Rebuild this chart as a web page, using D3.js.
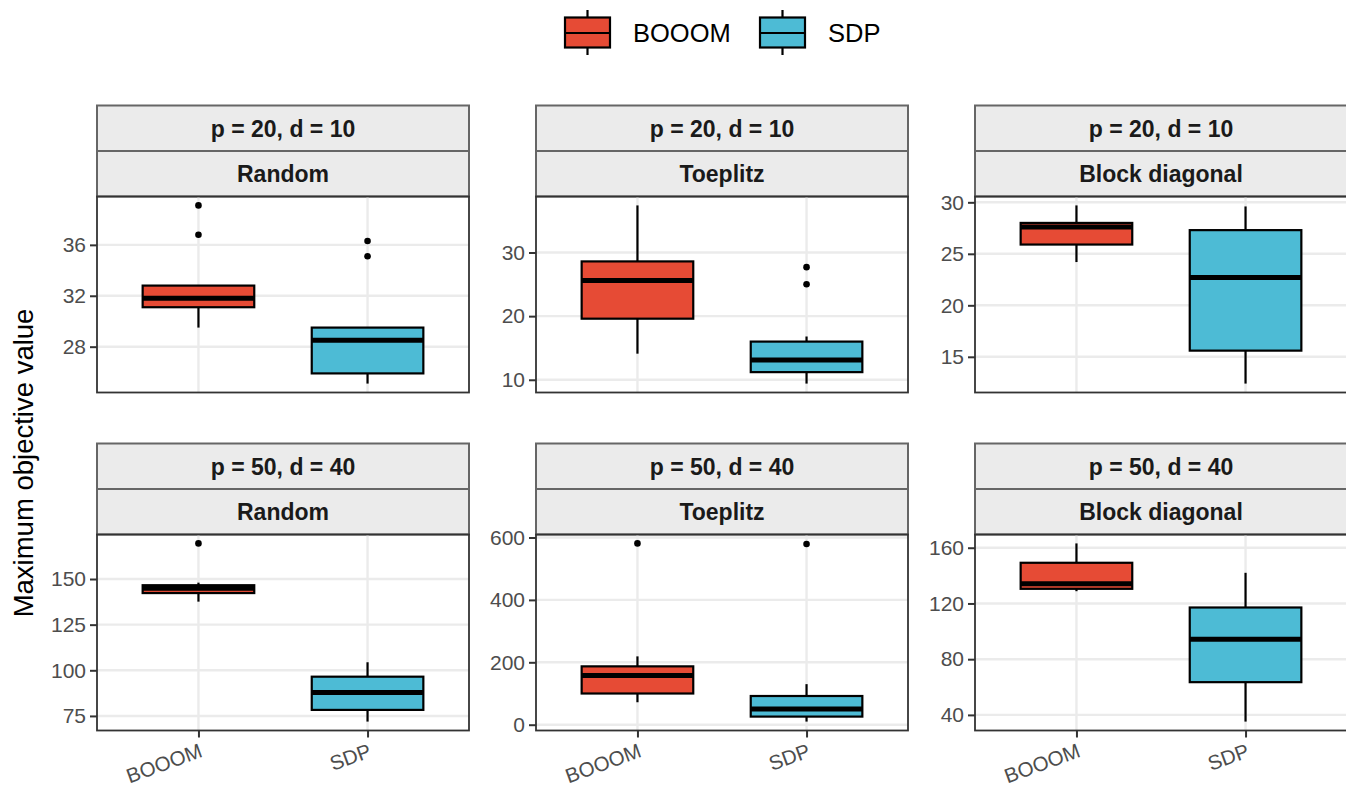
<!DOCTYPE html>
<html>
<head>
<meta charset="utf-8">
<script src="https://cdn.jsdelivr.net/npm/d3@7"></script>
<style>
  body { margin: 0; background: #fff; }
  svg { font-family: "Liberation Sans", Arial, sans-serif; display: block; }
</style>
</head>
<body>
<svg width="1346" height="787"></svg>
<script>
  // data
  const methods = ['BOOOM', 'SDP'];
  const sizes = ['p = 20, d = 10', 'p = 50, d = 40'];
  const designs = ['Random', 'Toeplitz', 'Block diagonal'];
  // per panel (row by row): [lower whisker, q1, median, q3, upper whisker]
  const booomStats = [
    [29.5, 31.1, 31.8, 32.8, 32.8],
    [14.1, 19.6, 25.6, 28.6, 37.4],
    [24.2, 25.9, 27.6, 28.0, 29.7],
    [137.6, 142.3, 145.0, 146.6, 148.0],
    [72, 100, 158, 187, 219],
    [128.8, 130.5, 134.1, 149.2, 163.1]
  ];
  const sdpStats = [
    [25.1, 25.9, 28.5, 29.5, 29.5],
    [9.4, 11.2, 13.1, 16.0, 16.8],
    [12.4, 15.6, 22.7, 27.3, 29.6],
    [71.9, 78.3, 87.8, 96.5, 104.4],
    [10, 26, 50, 92, 130],
    [35.2, 63.5, 94.3, 117.1, 142.0]
  ];
  const booomOutliers = [[36.8, 39.1], [], [], [169.5], [581], []];
  const sdpOutliers = [[35.1, 36.3], [25.0, 27.7], [], [], [579], []];
  const yTicks = [
    [28, 32, 36],
    [10, 20, 30],
    [15, 20, 25, 30],
    [75, 100, 125, 150],
    [0, 200, 400, 600],
    [40, 80, 120, 160]
  ];
  const colors = { BOOOM: '#E64B35', SDP: '#4DBBD5' };

  const svg = d3.select('svg');

  // layout
  const panelX = [97, 536, 975];
  const panelW = 372;
  const rowTop = [105.5, 443.5];
  const stripH = 45.5;
  const plotH = 196;

  const x = d3.scalePoint().domain(methods).range([0, panelW]).padding(0.6);
  const boxW = x.step() * 0.66;

  for (let i = 0; i < 6; i++) {
    const row = Math.floor(i / 3), col = i % 3;
    const g = svg.append('g')
      .attr('transform', `translate(${panelX[col]}, ${rowTop[row]})`);

    // strips
    [sizes[row], designs[col]].forEach((lab, k) => {
      g.append('rect')
        .attr('x', 0).attr('y', k * stripH)
        .attr('width', panelW).attr('height', stripH)
        .attr('fill', '#EBEBEB').attr('stroke', '#666').attr('stroke-width', 2);
      g.append('text')
        .attr('x', panelW / 2).attr('y', k * stripH + stripH / 2)
        .attr('dy', '0.36em')
        .attr('text-anchor', 'middle')
        .attr('font-size', 23).attr('font-weight', 'bold')
        .attr('fill', '#1A1A1A')
        .text(lab);
    });

    const p = g.append('g').attr('transform', `translate(0, ${2 * stripH})`);

    const stats = [booomStats[i], sdpStats[i]];
    const outs = [booomOutliers[i], sdpOutliers[i]];
    const all = stats.flat().concat(outs.flat());
    const lo = d3.min(all), hi = d3.max(all);
    const pad = (hi - lo) * 0.05;
    const y = d3.scaleLinear().domain([lo - pad, hi + pad]).range([plotH, 0]);

    // grid
    p.selectAll('.gy').data(yTicks[i]).enter().append('line')
      .attr('x1', 0).attr('x2', panelW)
      .attr('y1', d => y(d)).attr('y2', d => y(d))
      .attr('stroke', '#EBEBEB').attr('stroke-width', 2.4);
    p.selectAll('.gx').data(methods).enter().append('line')
      .attr('x1', d => x(d)).attr('x2', d => x(d))
      .attr('y1', 0).attr('y2', plotH)
      .attr('stroke', '#EBEBEB').attr('stroke-width', 2.4);

    // y axis
    const yAxis = p.append('g')
      .call(d3.axisLeft(y).tickValues(yTicks[i]).tickSize(7).tickPadding(4));
    yAxis.select('.domain').remove();
    yAxis.selectAll('line').attr('stroke', '#333').attr('stroke-width', 2);
    yAxis.selectAll('text').attr('font-size', 21).attr('fill', '#4D4D4D')
      .attr('font-family', '"Liberation Sans", Arial, sans-serif');

    // boxes
    methods.forEach((m, k) => {
      const s = stats[k];
      const cx = x(m);
      const bg = p.append('g');
      bg.append('line')
        .attr('x1', cx).attr('x2', cx)
        .attr('y1', y(s[0])).attr('y2', y(s[1]))
        .attr('stroke', '#000').attr('stroke-width', 2.2);
      bg.append('line')
        .attr('x1', cx).attr('x2', cx)
        .attr('y1', y(s[3])).attr('y2', y(s[4]))
        .attr('stroke', '#000').attr('stroke-width', 2.2);
      bg.append('rect')
        .attr('x', cx - boxW / 2).attr('width', boxW)
        .attr('y', y(s[3])).attr('height', y(s[1]) - y(s[3]))
        .attr('fill', colors[m]).attr('stroke', '#000').attr('stroke-width', 2.2);
      bg.append('line')
        .attr('x1', cx - boxW / 2).attr('x2', cx + boxW / 2)
        .attr('y1', y(s[2])).attr('y2', y(s[2]))
        .attr('stroke', '#000').attr('stroke-width', 5);
      bg.selectAll('circle').data(outs[k]).enter().append('circle')
        .attr('cx', cx).attr('cy', d => y(d)).attr('r', 3.3)
        .attr('fill', '#000');
    });

    // panel border
    p.append('rect')
      .attr('width', panelW).attr('height', plotH)
      .attr('fill', 'none').attr('stroke', '#333').attr('stroke-width', 1.8);

    // x axis only on bottom row
    if (row === 1) {
      const xAxis = p.append('g')
        .attr('transform', `translate(0, ${plotH})`)
        .call(d3.axisBottom(x).tickSize(7).tickFormat(''));
      xAxis.select('.domain').remove();
      xAxis.selectAll('line').attr('stroke', '#333').attr('stroke-width', 2);
      p.selectAll('.xl').data(methods).enter().append('text')
        .attr('transform', d => `translate(${x(d) + 5}, ${plotH + 26}) rotate(-20)`)
        .attr('text-anchor', 'end')
        .attr('font-size', 20.5).attr('fill', '#4D4D4D')
        .text(d => d);
    }
  }

  // y axis title
  svg.append('text')
    .attr('transform', `translate(33, 463) rotate(-90)`)
    .attr('text-anchor', 'middle')
    .attr('font-size', 27.5).attr('fill', '#000')
    .text('Maximum objective value');

  // legend
  const legX = [565, 760];
  const legend = svg.append('g');
  methods.forEach((m, k) => {
    const lg = legend.append('g').attr('transform', `translate(${legX[k]}, 0)`);
    lg.append('line').attr('x1', 22.5).attr('x2', 22.5).attr('y1', 10).attr('y2', 55)
      .attr('stroke', '#000').attr('stroke-width', 2.2);
    lg.append('rect').attr('x', 0).attr('y', 17.5).attr('width', 45).attr('height', 30)
      .attr('fill', colors[m]).attr('stroke', '#000').attr('stroke-width', 2.2);
    lg.append('line').attr('x1', 0).attr('x2', 45).attr('y1', 33).attr('y2', 33)
      .attr('stroke', '#000').attr('stroke-width', 2.2);
    lg.append('text').attr('x', 68).attr('y', 33).attr('dy', '0.36em')
      .attr('font-size', 25.5).attr('fill', '#000')
      .text(m);
  });
</script>
</body>
</html>
